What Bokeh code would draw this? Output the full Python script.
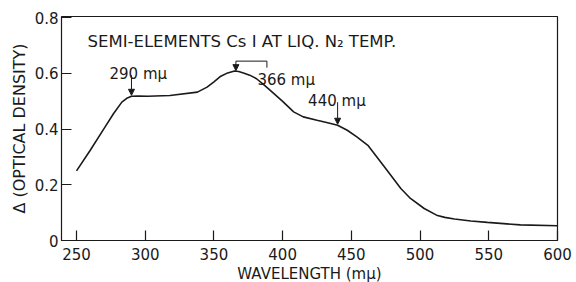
import numpy as np
from bokeh.plotting import figure
from bokeh.models import (FixedTicker, Label, Arrow, NormalHead, Range1d)
from bokeh.embed import file_html
from bokeh.resources import INLINE

# ---- data ----
wavelength = [250, 260, 270, 277, 283, 287, 290, 295, 302, 318, 338, 345, 350,
              355, 360, 365, 368, 372, 376, 381, 386, 391, 400, 408, 415, 425,
              432, 440, 447, 454, 462, 474, 486, 493, 503, 512, 518, 525, 537,
              549, 573, 600]
density = [0.250, 0.324, 0.402, 0.456, 0.497, 0.512, 0.518, 0.519, 0.518, 0.521,
           0.533, 0.551, 0.570, 0.590, 0.602, 0.609, 0.607, 0.601, 0.594, 0.581,
           0.561, 0.539, 0.500, 0.462, 0.444, 0.432, 0.424, 0.414, 0.396, 0.372,
           0.342, 0.265, 0.187, 0.151, 0.115, 0.091, 0.083, 0.077, 0.070, 0.065,
           0.056, 0.053]

x_ticks = [250, 300, 350, 400, 450, 500, 550, 600]
x_tick_labels = ["250", "300", "350", "400", "450", "500", "550", "600"]
y_ticks = [0, 0.2, 0.4, 0.6, 0.8]
y_tick_labels = ["0", "0.2", "0.4", "0.6", "0.8"]

peaks = [290, 366, 440]
peak_labels = ["290 m\u03bc", "366 m\u03bc", "440 m\u03bc"]

title_text = "SEMI-ELEMENTS Cs I AT LIQ. N\u2082 TEMP."
x_label = "WAVELENGTH (m\u03bc)"
y_label = "\u0394 (OPTICAL DENSITY)"

# ---- layout ----
FONT = "DejaVu Sans"
INK = "#1a1a1a"
X0, X1 = 239.08, 600
Y0, Y1 = 0, 0.8046
FW, FH = 496, 224
PX = (X1 - X0) / FW   # data units per pixel (x)
PY = (Y1 - Y0) / FH   # data units per pixel (y)

p = figure(width=576, height=285, output_backend="svg", toolbar_location=None,
           x_range=Range1d(X0, X1), y_range=Range1d(Y0, Y1),
           min_border_left=61, min_border_right=19, min_border_top=16,
           min_border_bottom=45)
p.background_fill_color = "white"
p.border_fill_color = "white"
p.outline_line_color = INK
p.outline_line_width = 1.2
p.grid.visible = False

for ax in (p.xaxis[0], p.yaxis[0]):
    ax.axis_line_color = None
    ax.major_tick_in = 10
    ax.major_tick_out = 0
    ax.minor_tick_line_color = None
    ax.major_tick_line_color = INK
    ax.major_tick_line_width = 1.2
    ax.major_label_text_font = FONT
    ax.major_label_text_font_size = "15px"
    ax.major_label_text_color = INK
    ax.axis_label_text_font = FONT
    ax.axis_label_text_font_style = "normal"
    ax.axis_label_text_color = INK

p.xaxis.ticker = FixedTicker(ticks=x_ticks)
p.xaxis.major_label_overrides = {t: l for t, l in zip(x_ticks, x_tick_labels)}
p.xaxis.major_label_standoff = 7
p.xaxis.axis_label = x_label
p.xaxis.axis_label_text_font_size = "15px"
p.xaxis.axis_label_standoff = 2

p.yaxis.ticker = FixedTicker(ticks=y_ticks)
p.yaxis.major_label_overrides = {t: l for t, l in zip(y_ticks, y_tick_labels)}
p.yaxis.major_label_standoff = 3
p.yaxis.axis_label = y_label
p.yaxis.axis_label_text_font_size = "16px"
p.yaxis.axis_label_standoff = 3

p.line(wavelength, density, line_color=INK, line_width=1.6)

# title inside the frame
p.add_layout(Label(x=X0 + 26 * PX, y=Y1 - 25 * PY, text=title_text,
                   text_font=FONT, text_font_size="16.5px", text_color=INK,
                   text_baseline="alphabetic"))

# peak annotations
def curve_at(w):
    return float(np.interp(w, wavelength, density))

head = dict(size=6, fill_color=INK, line_color=INK)

# 290
w = peaks[0]; yv = curve_at(w)
p.add_layout(Arrow(end=NormalHead(**head), x_start=w, y_start=yv + 21 * PY,
                   x_end=w, y_end=yv + 1 * PY, line_color=INK, line_width=1))
p.add_layout(Label(x=w, y=yv + 22 * PY, x_offset=-22, text=peak_labels[0],
                   text_font=FONT, text_font_size="15px", text_color=INK,
                   text_baseline="alphabetic"))

# 366 with bracket
w = peaks[1]; yv = curve_at(w)
p.add_layout(Arrow(end=NormalHead(**head), x_start=w, y_start=yv + 10 * PY,
                   x_end=w, y_end=yv + 0.5 * PY, line_color=INK, line_width=1))
p.line([w, w + 31 * PX, w + 31 * PX], [yv + 10 * PY, yv + 10 * PY, yv + 3.5 * PY],
       line_color=INK, line_width=1)
p.add_layout(Label(x=w, y=yv - 9 * PY, x_offset=21.5, text=peak_labels[1],
                   text_font=FONT, text_font_size="15px", text_color=INK,
                   text_baseline="alphabetic"))

# 440
w = peaks[2]; yv = curve_at(w)
p.add_layout(Arrow(end=NormalHead(**head), x_start=w, y_start=yv + 23 * PY,
                   x_end=w, y_end=yv + 1 * PY, line_color=INK, line_width=1))
p.add_layout(Label(x=w, y=yv + 24 * PY, x_offset=-29.5, text=peak_labels[2],
                   text_font=FONT, text_font_size="15px", text_color=INK,
                   text_baseline="alphabetic"))

open("out.html", "w").write(file_html(p, INLINE))
